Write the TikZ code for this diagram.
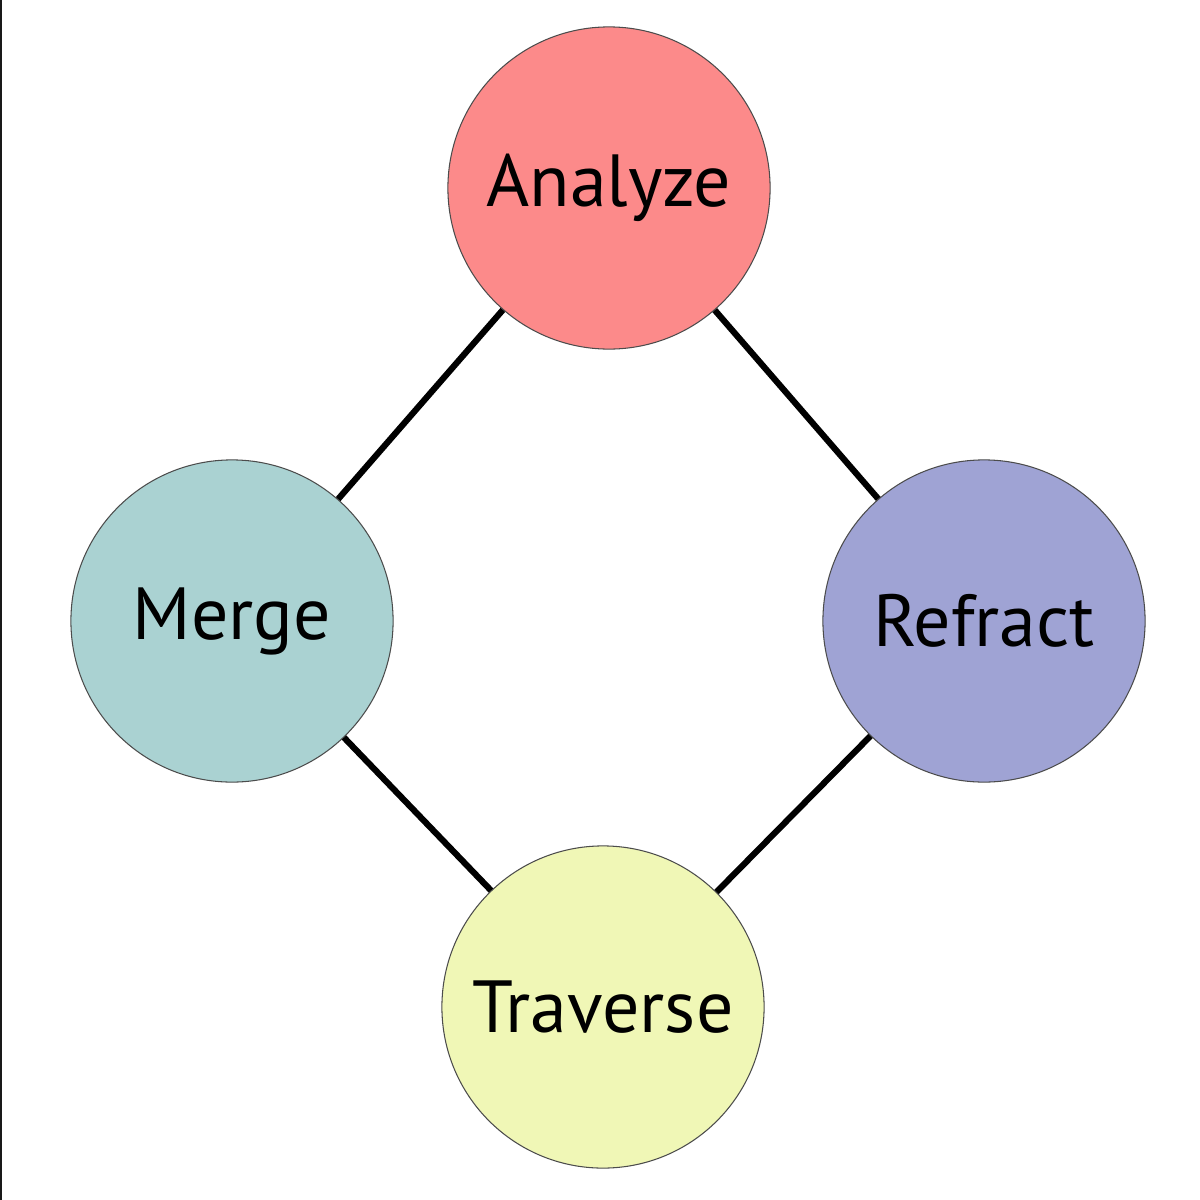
\documentclass[tikz,border=0pt]{standalone}
\usepackage{fontspec}
\setmainfont{PT Sans}
\definecolor{cA}{HTML}{FC8A8A}
\definecolor{cM}{HTML}{AAD2D2}
\definecolor{cR}{HTML}{9FA3D4}
\definecolor{cT}{HTML}{F0F7B6}
\begin{document}
\begin{tikzpicture}[x=0.01cm,y=-0.01cm,
  bubble/.style={circle,draw=black!70,line width=0.3pt,minimum size=3.22cm,inner sep=0pt,font=\fontsize{21}{25}\selectfont},
  link/.style={line width=0.062cm,black}]
\useasboundingbox (0,0) rectangle (1200,1200);
\fill[white] (0,0) rectangle (1200,1200);
\fill[black!90] (0,0) rectangle (2,1200);
\node[bubble,fill=cA] (an) at (609,188) {Analyze};
\node[bubble,fill=cM] (me) at (232,621) {Merge};
\node[bubble,fill=cR] (re) at (984,621) {Refract};
\node[bubble,fill=cT] (tr) at (603,1007) {Traverse};
\draw[link] (an) -- (me);
\draw[link] (an) -- (re);
\draw[link] (me) -- (tr);
\draw[link] (re) -- (tr);
\end{tikzpicture}
\end{document}
